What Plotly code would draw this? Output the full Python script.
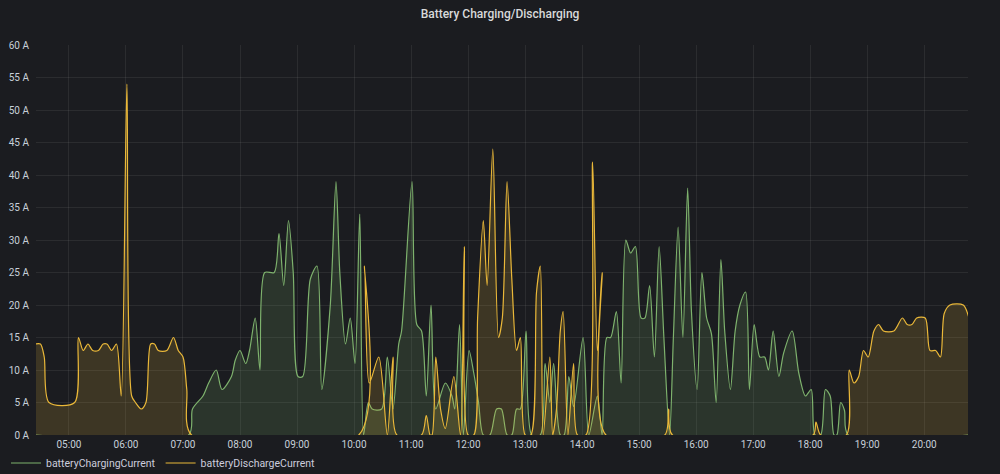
import plotly.graph_objects as go

DAY = "2023-05-01 "

charge_times = ["04:25", "07:06", "07:10", "07:21", "07:27", "07:35", "07:41", "07:51", "07:55",
                "08:00", "08:06", "08:10", "08:16", "08:21", "08:26", "08:36", "08:41", "08:46",
                "08:51", "08:56", "09:01", "09:06", "09:14", "09:21", "09:26", "09:35", "09:41",
                "09:45", "09:51", "09:56", "10:01", "10:06", "10:10", "10:15", "10:19", "10:29",
                "10:35", "10:41", "10:47", "10:50", "11:01", "11:06", "11:11", "11:16", "11:21",
                "11:26", "11:36", "11:43", "11:46", "11:51", "11:55", "12:01", "12:06", "12:11",
                "12:16", "12:23", "12:30", "12:35", "12:41", "12:46", "12:51", "12:55", "13:01",
                "13:07", "13:16", "13:21", "13:26", "13:30", "13:37", "13:41", "13:46", "13:51",
                "14:01", "14:07", "14:16", "14:21", "14:26", "14:30", "14:36", "14:41", "14:46",
                "14:51", "14:56", "15:02", "15:06", "15:11", "15:16", "15:21", "15:26", "15:32",
                "15:36", "15:41", "15:46", "15:51", "15:55", "16:01", "16:06", "16:11", "16:16",
                "16:21", "16:26", "16:30", "16:36", "16:41", "16:46", "16:52", "16:56", "17:01",
                "17:07", "17:12", "17:16", "17:21", "17:27", "17:32", "17:41", "17:48", "17:55",
                "18:01", "18:05", "18:11", "18:16", "18:21", "18:25", "18:28", "18:32", "18:36",
                "18:40", "20:47"]
charge_values = [0, 0, 4, 6, 8, 10, 7, 9, 11.5,
                 13, 11, 13, 18, 10, 25, 25, 31, 23,
                 33, 25, 9, 9, 24, 26, 7, 20, 39,
                 25, 14, 18, 11, 34, 0, 5, 4, 4,
                 12, 4, 14, 16, 39, 17, 16, 6, 20,
                 4, 8, 6, 4, 17, 0, 13, 9.5, 5,
                 0, 0, 4, 4, 0, 0, 4, 4, 16,
                 0, 0, 11, 5, 11, 0, 0, 9, 4.4,
                 15, 0, 6, 0, 15, 15, 19, 8, 30,
                 28, 29, 18, 18, 23, 12, 29, 15, 0,
                 15, 32, 15, 38, 19, 7, 25, 18, 15.6,
                 5, 27, 16, 7, 16, 20, 22, 7, 17,
                 12, 12, 10, 16, 9, 12.6, 16, 9.5, 6,
                 7, 0, 0, 7, 6, 0, 0, 5, 3.8,
                 0, 0]

discharge_times = ["04:25", "04:30", "04:34", "04:39", "05:06", "05:10", "05:15", "05:20", "05:25",
                   "05:31", "05:36", "05:40", "05:45", "05:50", "05:55", "06:01", "06:06", "06:10",
                   "06:16", "06:21", "06:26", "06:30", "06:34", "06:43", "06:50", "06:55", "07:00",
                   "07:04", "07:09", "10:05", "10:11", "10:16", "10:26", "10:35", "10:41", "10:45",
                   "11:11", "11:16", "11:20", "11:22", "11:26", "11:31", "11:36", "11:45", "11:52",
                   "11:56", "12:00", "12:06", "12:10", "12:16", "12:20", "12:26", "12:32", "12:36",
                   "12:41", "12:46", "12:51", "12:55", "13:00", "13:06", "13:12", "13:16", "13:19",
                   "13:26", "13:29", "13:33", "13:37", "13:40", "13:45", "13:51", "13:55", "14:04",
                   "14:11", "14:16", "14:21", "14:25", "15:27", "15:31", "15:35", "18:03", "18:06",
                   "18:11", "18:38", "18:41", "18:46", "18:51", "18:56", "19:01", "19:07", "19:12",
                   "19:17", "19:28", "19:37", "19:42", "19:47", "19:52", "20:01", "20:06", "20:12",
                   "20:17", "20:21", "20:27", "20:41", "20:47"]
discharge_values = [14, 14, 12, 5, 5, 15, 13, 14, 13,
                    13, 14, 14, 13, 14, 6, 54, 6, 5,
                    4, 5, 14, 14, 13, 13, 15, 13, 12,
                    7, 0, 0, 26, 8, 12, 0, 12, 0,
                    0, 3, 0, 0, 12, 4, 1, 9, 0,
                    29, 0, 0, 18, 33, 23, 44, 15, 18,
                    39, 24, 13, 15, 0, 0, 22, 26, 0,
                    12, 0, 4, 16, 19, 0, 11, 0, 0,
                    42, 13, 25, 0, 0, 4, 0, 0, 2,
                    0, 0, 10, 8, 9, 13, 12, 16, 17,
                    16, 16, 18, 17, 17, 18, 18, 13, 13,
                    12, 18.7, 20, 20, 18]

y_ticks = list(range(0, 61, 5))
hour_ticks = ["05:00", "06:00", "07:00", "08:00", "09:00", "10:00", "11:00", "12:00",
              "13:00", "14:00", "15:00", "16:00", "17:00", "18:00", "19:00", "20:00"]

GREEN = "#7EB26D"
YELLOW = "#EAB839"
BG = "#1b1c20"
TXT = "#c7d0d9"

cx = [DAY + t for t in charge_times]
dx = [DAY + t for t in discharge_times]

fig = go.Figure()
for name, xs, ys, col, fillcol in [
    ("batteryChargingCurrent", cx, charge_values, GREEN, "rgba(126,178,109,0.17)"),
    ("batteryDischargeCurrent", dx, discharge_values, YELLOW, "rgba(234,184,57,0.17)"),
]:
    fig.add_trace(go.Scatter(x=xs, y=ys, mode="lines", fill="tozeroy", fillcolor=fillcol,
                             line=dict(width=0, shape="spline", smoothing=0.8, color=col),
                             showlegend=False, hoverinfo="skip"))
    fig.add_trace(go.Scatter(x=xs, y=ys, mode="lines", name=name,
                             line=dict(width=1.2, shape="spline", smoothing=0.8, color=col)))

fig.update_layout(
    width=1000, height=474,
    paper_bgcolor=BG, plot_bgcolor=BG,
    margin=dict(l=36, r=32, t=45, b=39, autoexpand=False),
    font=dict(family="Roboto, Inter, sans-serif", size=10, color=TXT),
    title=dict(text="Battery Charging/Discharging", x=0.5, xanchor="center",
               y=1 - 14 / 474, yref="container", yanchor="middle",
               font=dict(size=12, color="#d8d9da", weight=500)),
    legend=dict(orientation="h", x=0.006, xref="container", xanchor="left",
                y=1 - 463 / 474, yref="container", yanchor="middle",
                font=dict(size=10.5, color="#ccccdc"), bgcolor="rgba(0,0,0,0)",
                itemwidth=30, tracegroupgap=0),
    showlegend=True,
)
fig.update_xaxes(
    type="date", automargin=False,
    range=[DAY + "04:25:20", DAY + "20:46:00"],
    tickvals=[DAY + h for h in hour_ticks], ticktext=hour_ticks,
    showgrid=True, gridcolor="rgba(255,255,255,0.07)", gridwidth=1,
    zeroline=False, showline=False, ticks="", ticklabelstandoff=2,
    tickfont=dict(size=10, color=TXT),
)
fig.update_yaxes(
    range=[0, 60], tickvals=y_ticks, ticktext=[f"{v} A" for v in y_ticks], automargin=False,
    showgrid=True, gridcolor="rgba(255,255,255,0.07)", gridwidth=1,
    zeroline=False, showline=False, ticks="", ticklabelstandoff=6,
    tickfont=dict(size=10, color=TXT),
)

fig.write_html("out.html")
